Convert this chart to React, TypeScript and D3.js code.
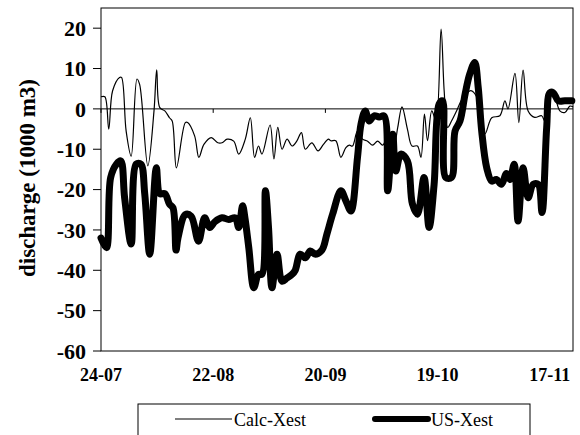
import React from "react";
import * as d3 from "d3";

// day offsets from 24-07
const calcDays = [0, 1, 2, 3, 4.8, 5.3, 6.5, 7.8, 9.3, 10, 12.1, 13.7, 14.4, 15.2, 16.5, 17.7, 18.4, 19.5, 21.8, 22.4, 24.2, 25.3, 26.6, 28.5, 30.2, 31.3, 32.6, 34.3, 35.6, 37.3, 38.6, 39.7, 40.7, 41.6, 43.7, 44.7, 45.7, 46.8, 48.1, 49.4, 50.6, 51.8, 52.8, 54.5, 56.1, 57.5, 58.8, 59.4, 60.7, 62, 63.3, 64.2, 65, 66.3, 67.6, 68.9, 70.2, 71.5, 72.8, 74.1, 75.4, 76.7, 77.8, 79.2, 80.4, 81.8, 82.7, 83.6, 84.4, 85.5, 86.6, 87.9, 88.7, 89.6, 90.6, 91.9, 93.5, 95.6, 97.1, 99.2, 101, 103.1, 104.4, 105.2, 107, 108, 109.1, 110.4, 112.1, 113.9, 114.7, 115.6, 116.9, 118.6, 119.9, 121.2, 122];
const calcValues = [3, 3, -5, 4.5, 7.8, 7.8, -5.5, -11.7, 7.4, 6, -14.1, -0.5, 9.7, 0.3, -0.5, -2.2, -3, -14.6, -3.4, -3.4, -6.7, -12, -8.8, -7.1, -8.4, -8.4, -7.5, -8, -11.2, -7.5, -2.2, -12, -9.2, -11.2, -4, -12.4, -4.6, -10, -7.5, -9.2, -8, -5.9, -10, -8.4, -10.4, -8.8, -7.5, -7.9, -7.9, -12, -9.6, -9, -9.2, -5.5, -7.5, -8, -9, -8, -9, -7.1, -11.2, -4.6, 0.5, -5, -9.2, -9.2, -12, -1.3, -7.9, -0.5, -3, 19.8, 4.5, -4.6, -3, -0.5, 2.7, 4.5, 3, -6.2, -2.2, -1.7, 2, 0, 8.8, -3.4, 9.6, -0.5, -2.1, -1.7, -3, 2, 4, -0.5, -0.9, 0.7, 0.5];

const usDays = [0, 1.4, 2.5, 4, 5.1, 6.1, 7.8, 9.1, 10.3, 11.3, 12.6, 14.3, 15.2, 16.5, 17.7, 18.6, 19.4, 19.9, 21.8, 23.3, 25.2, 26.8, 28.1, 29.4, 31.3, 33, 34.7, 35.6, 36.6, 37.2, 38.2, 39.5, 40.7, 41.6, 42.5, 43.3, 44.2, 45.5, 46.8, 48.1, 49.4, 50.2, 51.5, 52.8, 54.1, 55.4, 57.1, 58.4, 59.9, 62, 63.3, 64.6, 66.3, 67.2, 68.3, 69.3, 70.6, 71.9, 73.2, 74.1, 75.4, 76.2, 77.5, 79.2, 80.5, 81.8, 83.5, 84.8, 86.1, 87.4, 88.3, 89.1, 90.6, 91.5, 92.8, 94.1, 95.3, 96.6, 97.5, 98.4, 99.7, 101, 102.2, 103.5, 104.8, 105.7, 106.8, 107.8, 109.1, 110.4, 111.7, 113, 114, 115.2, 116, 116.9, 118.2, 119.9, 121.7];
const usValues = [-32, -34.4, -17, -13.7, -12.9, -22, -33.5, -13.7, -13.7, -21, -36, -14.6, -21, -21, -23.6, -24.5, -35, -32, -26.2, -26.6, -32.8, -27, -29.4, -28, -27, -27.4, -27, -29.4, -24, -27, -34.4, -44.3, -41, -41, -20.3, -29.4, -44.3, -36, -42.7, -41.9, -41, -40, -36, -36.9, -35.2, -36, -35, -31, -26, -20.3, -22.8, -25.3, -12, -3.8, -0.5, -3, -1.7, -2, -1.8, -20.3, -6.3, -15.4, -11.2, -12.9, -23.6, -26.1, -17, -29.4, -18.7, 1.2, 2, -17, -17, -5.5, -3, 3.6, 8.6, 11.5, 5.3, -5.5, -14.6, -17.9, -17.5, -18.7, -16, -17.5, -13.7, -27.8, -14.6, -22, -18.7, -18.7, -25.7, -4.6, 4, 4, 2, 2, 2];

const yTicks = [-60, -50, -40, -30, -20, -10, 0, 10, 20];
const xTickDays = [0, 29, 58, 87, 116];
const xTickLabels = ["24-07", "22-08", "20-09", "19-10", "17-11"];
const seriesNames = ["Calc-Xest", "US-Xest"];

const startDate = new Date(2000, 6, 24);
const dayToDate = (d: number) => new Date(startDate.getTime() + d * 86400000);

const W = 580, H = 435;
const plot = { left: 101, top: 8, right: 573, bottom: 351 };
const font = "'Liberation Serif', 'Times New Roman', serif";

export default function App() {
  const x = d3.scaleTime()
    .domain([startDate, dayToDate(122)])
    .range([plot.left, plot.right]);
  const y = d3.scaleLinear().domain([-60, 25]).range([plot.bottom, plot.top]);

  const line = d3.line<[number, number]>()
    .x((d) => x(dayToDate(d[0])))
    .y((d) => y(d[1]))
    .curve(d3.curveCatmullRom.alpha(0.5));

  const calc = calcDays.map((d, i) => [d, calcValues[i]] as [number, number]);
  const us = usDays.map((d, i) => [d, usValues[i]] as [number, number]);

  return (
    <svg width={W} height={H} style={{ position: "absolute", left: 0, top: 0, background: "#fff" }}>
      {/* plot frame */}
      <rect x={plot.left} y={plot.top} width={plot.right - plot.left} height={plot.bottom - plot.top}
        fill="none" stroke="#000" strokeWidth={1} />
      {/* zero line with date ticks */}
      <line x1={plot.left} x2={plot.right} y1={y(0)} y2={y(0)} stroke="#000" strokeWidth={1} />
      {xTickDays.map((d) => (
        <line key={d} x1={x(dayToDate(d))} x2={x(dayToDate(d))} y1={y(0)} y2={y(0) + 4} stroke="#000" />
      ))}
      {/* y ticks */}
      {yTicks.map((t) => (
        <g key={t}>
          <line x1={plot.left - 8} x2={plot.left} y1={y(t)} y2={y(t)} stroke="#000" />
          <text x={86} y={y(t)} dy="0.35em" textAnchor="end" fontFamily={font} fontWeight="bold" fontSize={22}>
            {t}
          </text>
        </g>
      ))}
      {xTickDays.map((d, i) => (
        <text key={d} x={x(dayToDate(d))} y={381} textAnchor="middle" fontFamily={font} fontWeight="bold" fontSize={18}>
          {xTickLabels[i]}
        </text>
      ))}
      <text transform={`translate(35,178) rotate(-90)`} textAnchor="middle" fontFamily={font} fontWeight="bold" fontSize={23}>
        discharge (1000 m3)
      </text>

      <path d={line(calc) ?? ""} fill="none" stroke="#000" strokeWidth={1.2} strokeLinejoin="round" />
      <path d={line(us) ?? ""} fill="none" stroke="#000" strokeWidth={7} strokeLinejoin="round" strokeLinecap="round" />

      {/* legend */}
      <rect x={138} y={404} width={392} height={40} fill="#fff" stroke="#000" strokeWidth={1} />
      <line x1={175} x2={232} y1={419} y2={419} stroke="#000" strokeWidth={1.2} />
      <text x={234} y={426} fontFamily={font} fontSize={18}>{seriesNames[0]}</text>
      <line x1={375} x2={428} y1={419} y2={419} stroke="#000" strokeWidth={6} strokeLinecap="round" />
      <text x={431} y={426} fontFamily={font} fontSize={18}>{seriesNames[1]}</text>
    </svg>
  );
}
